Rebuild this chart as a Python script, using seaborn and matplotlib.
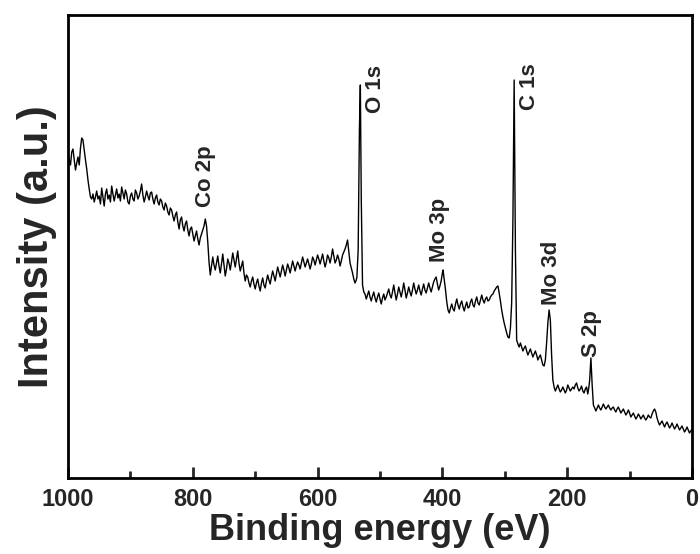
import matplotlib
matplotlib.use("Agg")
import matplotlib.pyplot as plt
import seaborn as sns
import pandas as pd
from matplotlib.ticker import MultipleLocator

# Binding energy (eV) (rows match the intensity rows)
energy = [
    1000, 998, 996, 994, 992, 990, 988, 986, 984, 982, 980, 978, 976, 974, 972, 970, 968, 966, 964,
    962, 960, 958, 956, 954, 952, 950, 948, 946, 944, 942, 940, 938, 936, 934, 932, 930, 928, 926, 924,
    922, 920, 918, 916, 914, 912, 910, 908, 906, 904, 902, 900, 898, 896, 894, 892, 890, 888, 886, 884,
    882, 880, 878, 876, 874, 872, 870, 868, 866, 864, 862, 860, 858, 856, 854, 852,
    850, 848, 846, 844, 842, 840, 838, 836, 834, 832, 830, 828, 826, 824, 822, 820,
    818, 816, 814, 812, 810, 808, 806, 804, 802, 800, 798, 796, 794, 792, 790,
    788, 786, 784, 782, 780, 778, 776, 774, 772, 770, 768, 766, 764, 762, 760, 758,
    756, 754, 752, 750, 748, 746, 744, 742, 740, 738, 736, 734, 732, 730, 728, 726,
    724, 722, 720, 718, 716, 714, 712, 710, 708, 706, 704, 702, 700, 698, 696, 694,
    692, 690, 688, 686, 684, 682, 680, 678, 676, 674, 672, 670, 668, 666, 664, 662,
    660, 658, 656, 654, 652, 650, 648, 646, 644, 642, 640, 638, 636, 634, 632, 630,
    628, 626, 624, 622, 620, 618, 616, 614, 612, 610, 608, 606, 604, 602, 600, 598,
    596, 594, 592, 590, 588, 586, 584, 582, 580, 578, 576, 574, 572, 570, 568, 566,
    564, 562, 560, 558, 556, 554, 552, 550, 548, 546, 544, 542, 540, 538, 537, 535,
    533, 531.5, 530, 528, 526,
    524, 522, 520, 518, 516, 514, 512, 510, 508, 506, 504, 502, 500, 498, 496, 494,
    492, 490, 488, 486, 484, 482, 480, 478, 476, 474, 472, 470, 468, 466, 464, 462,
    460, 458, 456, 454, 452, 450, 448, 446, 444, 442, 440, 438, 436, 434, 432, 430,
    428, 426, 424, 422, 420, 418, 416, 414, 412, 410, 408, 406, 404, 402, 400, 399,
    397, 395, 393, 391, 389, 387, 385, 383, 381, 379, 377, 375, 373, 371, 369, 367,
    365, 363, 361, 359, 357, 355, 353, 351, 349, 347, 345, 343, 341, 339, 337, 335,
    333, 331, 329, 327, 325, 323, 321, 319, 317, 315, 313, 311, 309, 307, 305, 303,
    301, 299, 297, 295, 293, 291, 289, 287, 285, 283, 281, 279, 277, 275, 273, 271,
    269, 267, 265, 263, 261, 259, 257, 255, 253, 251, 249, 247, 245, 243, 241, 239,
    237, 235, 233, 231, 229, 227, 225, 223, 221, 219, 217, 215, 213, 211, 209, 207,
    205, 203, 201, 199, 197, 195, 193, 191, 189, 187, 185, 183, 181, 179, 177, 175,
    173, 171, 169, 167, 165, 164, 162, 160, 158, 156, 154, 152, 150, 148, 146, 144,
    142, 140, 138, 136, 134, 132, 130, 128, 126, 124, 122, 120, 118, 116, 114, 112,
    110, 108, 106, 104, 102, 100, 98, 96, 94, 92, 90, 88, 86, 84, 82, 80,
    78, 76, 74, 72, 70, 68, 66, 64, 62, 60, 58, 56, 54, 52, 50, 48,
    46, 44, 42, 40, 38, 36, 34, 32, 30, 28, 26, 24, 22, 20, 18, 16,
    14, 12, 10, 8, 6, 4, 2, 1,
]
# Intensity (a.u.), same row layout as energy
intensity = [
    323, 318, 313, 326, 329, 318, 308, 315, 321, 313, 330, 340, 338, 328, 318, 309, 298, 289, 281,
    279, 284, 276, 281, 287, 279, 282, 274, 290, 281, 272, 284, 289, 279, 283, 276, 292, 284, 277, 283,
    289, 280, 284, 277, 291, 285, 279, 288, 284, 276, 274, 282, 285, 279, 277, 288, 285, 279, 282, 287,
    294, 283, 276, 281, 287, 282, 278, 285, 286, 279, 274, 280, 283, 276, 273, 279,
    277, 271, 268, 275, 272, 266, 263, 270, 268, 262, 257, 263, 266, 256, 249, 258,
    261, 252, 247, 254, 257, 248, 242, 249, 251, 244, 237, 242, 247, 239, 233,
    240, 244, 248, 252, 259, 252, 236, 216, 203, 212, 221, 213, 208, 215, 222, 212,
    205, 214, 224, 213, 202, 209, 219, 215, 208, 216, 225, 218, 211, 219, 227, 215,
    207, 212, 217, 205, 197, 203, 201, 195, 191, 197, 201, 194, 189, 195, 199, 192,
    187, 195, 200, 193, 190, 197, 203, 198, 194, 201, 207, 202, 197, 204, 211, 206,
    201, 207, 213, 208, 202, 208, 214, 210, 205, 211, 217, 212, 207, 212, 216, 213,
    209, 215, 221, 216, 211, 215, 219, 214, 209, 214, 221, 218, 213, 218, 223, 219,
    214, 219, 224, 217, 211, 216, 223, 220, 215, 221, 229, 222, 215, 218, 223, 219,
    212, 217, 223, 226, 229, 233, 238, 226, 215, 210, 205, 199, 195, 198, 201, 228,
    348, 393, 278, 193, 186,
    184, 179, 183, 187, 181, 177, 182, 186, 180, 176, 181, 185, 179, 174, 180, 184,
    178, 181, 185, 189, 183, 180, 186, 193, 185, 178, 184, 191, 186, 181, 187, 195,
    188, 180, 185, 191, 186, 182, 188, 195, 189, 184, 188, 193, 187, 183, 189, 194,
    188, 185, 190, 195, 190, 186, 191, 196, 199, 201, 194, 188, 192, 197, 205, 208,
    198, 188, 176, 168, 165, 170, 174, 169, 167, 174, 179, 173, 169, 174, 177, 171,
    167, 172, 176, 170, 171, 176, 179, 173, 171, 177, 181, 175, 173, 178, 183, 178,
    175, 179, 181, 177, 178, 181, 183, 184, 187, 189, 191, 192, 185, 177, 168, 161,
    155, 150, 145, 141, 140, 150, 175, 258, 398, 228, 138, 134, 131, 135, 131, 127,
    130, 132, 127, 123, 126, 129, 125, 121, 124, 127, 123, 118, 121, 123, 118, 113,
    112, 118, 135, 155, 168, 158, 123, 98, 91, 87, 90, 93, 89, 86, 88, 91,
    88, 85, 88, 93, 90, 87, 89, 91, 89, 93, 95, 90, 87, 89, 92, 87,
    85, 89, 91, 84, 92, 98, 120, 93, 73, 70, 67, 70, 73, 70, 68, 71,
    74, 71, 69, 71, 73, 70, 68, 70, 71, 68, 66, 69, 71, 68, 65, 67,
    69, 66, 63, 65, 68, 65, 61, 63, 65, 62, 59, 61, 64, 62, 59, 61,
    63, 60, 58, 60, 63, 61, 60, 64, 67, 69, 66, 60, 56, 53, 55, 57,
    54, 51, 54, 56, 53, 50, 52, 55, 52, 49, 51, 54, 51, 48, 50, 52,
    49, 46, 48, 51, 48, 45, 47, 48,
]

peak_labels = ["Co 2p", "O 1s", "Mo 3p", "C 1s", "Mo 3d", "S 2p"]
peak_label_x = [780, 508, 404, 260, 225, 161]
peak_label_y = [271, 365, 216, 368, 173, 121]

x_ticks = [1000, 800, 600, 400, 200, 0]

df = pd.DataFrame({"energy": energy, "intensity": intensity})

sns.set_style("ticks")
plt.rcParams["font.family"] = ["Liberation Sans", "DejaVu Sans"]
plt.rcParams["font.weight"] = "bold"

fig = plt.figure(figsize=(7.0, 5.54), dpi=100)
ax = fig.add_axes([68 / 700, 1 - 478 / 554, (692 - 68) / 700, (478 - 15) / 554])

sns.lineplot(data=df, x="energy", y="intensity", ax=ax, color="black",
             linewidth=1.0, sort=False, estimator=None)

ax.set_xlim(1000, 0)
ax.set_ylim(0, 463)
ax.set_xticks(x_ticks)
ax.set_xticklabels([str(t) for t in x_ticks])
ax.xaxis.set_minor_locator(MultipleLocator(100))
ax.set_yticks([])

ax.tick_params(axis="x", which="major", direction="in", length=8, width=2,
               labelsize=17, pad=7, top=False)
ax.tick_params(axis="x", which="minor", direction="in", length=5, width=2, top=False)
for lab in ax.get_xticklabels():
    lab.set_fontweight("bold")

for sp in ax.spines.values():
    sp.set_visible(True)
    sp.set_linewidth(2.0)
    sp.set_color("black")

ax.set_xlabel("Binding energy (eV)", fontsize=26, fontweight="bold", labelpad=2)
ax.set_ylabel("Intensity (a.u.)", fontsize=30, fontweight="bold", labelpad=8)

for txt, xv, yv in zip(peak_labels, peak_label_x, peak_label_y):
    ax.text(xv, yv, txt, rotation=90, ha="center", va="bottom",
            fontsize=16, fontweight="bold")

fig.savefig("out.png", dpi=100)
